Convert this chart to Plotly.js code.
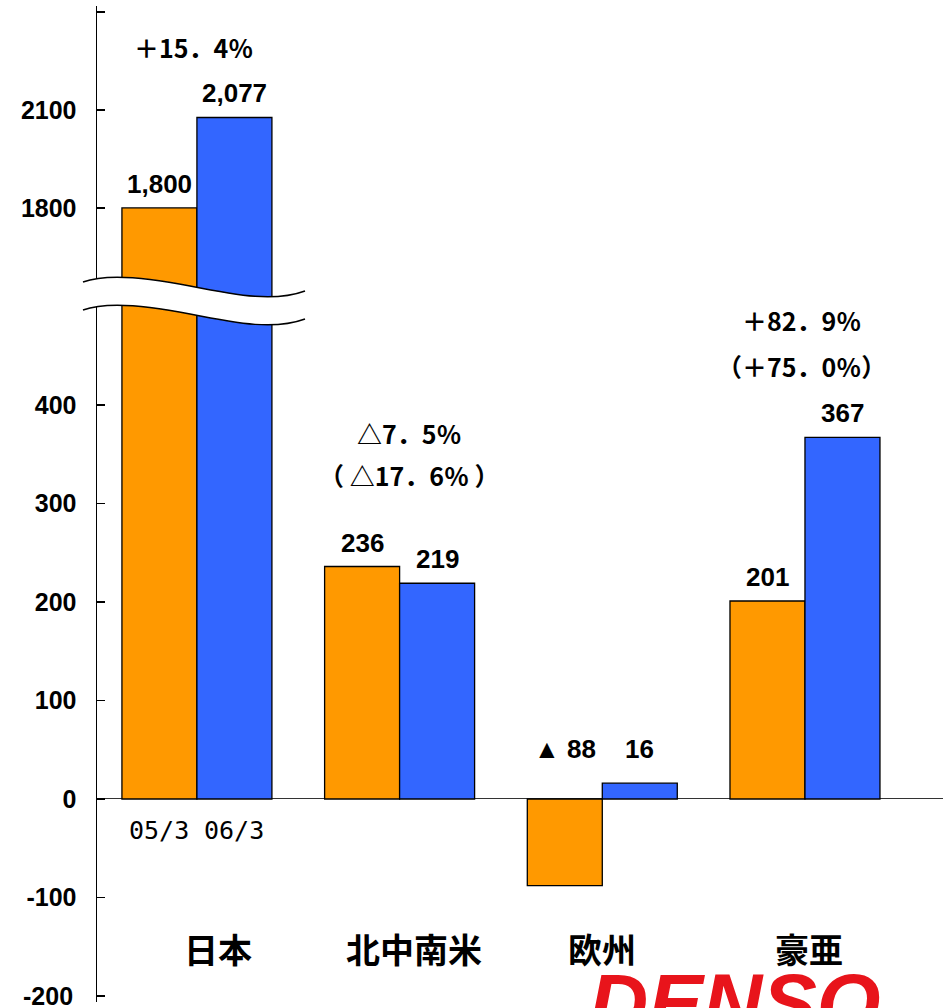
<!DOCTYPE html>
<html>
<head>
<meta charset="utf-8">
<script src="https://cdn.plot.ly/plotly-3.0.1.min.js"></script>
<style>html,body{margin:0;padding:0;background:#fff;}#chart{width:948px;height:1008px;}</style>
</head>
<body>
<div id="chart"></div>
<script>
// ---- data ----
const regions = ['日本', '北中南米', '欧州', '豪亜'];
const periods = ['05/3', '06/3'];
const values0503 = [1800, 236, -88, 201];
const values0603 = [2077, 219, 16, 367];
const labels0503 = ['1,800', '236', '▲ 88', '201'];
const labels0603 = ['2,077', '219', '16', '367'];
const growthMain = ['＋15．4％', '△7．5％', '', '＋82．9％'];
const growthLocal = ['', '（ △17．6％ ）', '', '（＋75．0％）'];
const lowerTickVals = [-200, -100, 0, 100, 200, 300, 400];
const lowerTickText = ['-200', '-100', '0', '100', '200', '300', '400'];
const upperTickVals = [1800, 2100, 2400];
const upperTickText = ['1800', '2100', ''];

// ---- geometry / style ----
const W = 948, H = 1008, ML = 97, MR = 5, MT = 6, MB = 6;
const PW = W - ML - MR, PH = H - MT - MB;
const px = v => (v - ML) / PW;
const py = v => (H - MB - v) / PH;
const LOWER_RANGE = [-206.1, 502.5];
const UPPER_RANGE = [1512, 2418.4];
const lowerDomain = [0, py(304)];
const upperDomain = [py(302), 1];
const ORANGE = '#FF9900', BLUE = '#3366FF';
const NUMFONT = 'Liberation Sans, Arial, Noto Sans CJK JP, sans-serif';
const CJKFONT = 'Noto Sans CJK JP, sans-serif';
const barOffset = 0.185;
const unitPx = PW / 4.174;               // pixels per category unit
const growthShift1 = [70, 134, 0, 117];
const growthShift2 = [0, 92, 0, 71];
const growthXShift = [-3, 10, 0, -3];     // px
const regionXShift = [21, 14, 0, 4];      // px
const tickFont = {family: NUMFONT, size: 25, color: '#000', weight: 'bold'};

const idx = regions.map((_, i) => i);
const barLine = {color: '#000', width: 1.3};
function barTrace(vals, color, yaxis, name) {
  return {type: 'bar', x: idx, y: vals, yaxis: yaxis, xaxis: 'x', name: name,
    marker: {color: color, line: barLine}, hoverinfo: 'skip', showlegend: false};
}
const traces = [
  barTrace(values0503, ORANGE, 'y', periods[0]),
  barTrace(values0603, BLUE, 'y', periods[1]),
  barTrace(values0503, ORANGE, 'y2', periods[0]),
  barTrace(values0603, BLUE, 'y2', periods[1])
];

const annotations = [];
const numFont = {family: NUMFONT, size: 26, color: '#000', weight: 'bold'};
const pctFont = {family: CJKFONT, size: 25, color: '#000', weight: 'bold'};
idx.forEach(i => {
  const a = values0503[i], b = values0603[i];
  const anyNeg = a < 0 || b < 0;
  [[a, labels0503[i], -barOffset], [b, labels0603[i], barOffset]].forEach(([v, t, off]) => {
    let y = v, shift = 24;
    if (anyNeg) { y = Math.max(a, b, 0); shift = 34; }
    const yref = y > LOWER_RANGE[1] ? 'y2' : 'y';
    annotations.push({x: i + off, y: y, xref: 'x', yref: yref, text: t, showarrow: false,
      yanchor: 'middle', yshift: shift, font: numFont});
  });
  const top = Math.max(a, b, 0);
  const yref = top > LOWER_RANGE[1] ? 'y2' : 'y';
  const gx = i + growthXShift[i] / unitPx;
  if (growthMain[i]) annotations.push({x: gx, y: top, xref: 'x', yref: yref, text: growthMain[i],
    showarrow: false, yanchor: 'middle', yshift: growthShift1[i], font: pctFont});
  if (growthLocal[i]) annotations.push({x: gx, y: top, xref: 'x', yref: yref, text: growthLocal[i],
    showarrow: false, yanchor: 'middle', yshift: growthShift2[i], font: pctFont});
  // region name
  annotations.push({x: i + regionXShift[i] / unitPx, y: py(948), xref: 'x', yref: 'paper', text: regions[i],
    showarrow: false, yanchor: 'middle', font: {family: CJKFONT, size: 34, color: '#000', weight: 'bold'}});
});
// period labels under first group
periods.forEach((p, k) => {
  annotations.push({x: (k === 0 ? -barOffset : barOffset), y: py(830), xref: 'x', yref: 'paper', text: p,
    showarrow: false, yanchor: 'middle', font: {family: 'DejaVu Sans Mono, monospace', size: 25, color: '#000'}});
});
// bottom tick label (Plotly drops it at the page edge) drawn as annotation
const bottomTickLabel = lowerTickText[0];
const lowerTickTextShown = lowerTickText.map((t, k) => k === 0 ? '' : t);
annotations.push({x: px(97 - 22), y: lowerTickVals[0], xref: 'paper', yref: 'y', text: bottomTickLabel,
  showarrow: false, xanchor: 'right', yanchor: 'middle', font: tickFont});
// logo
annotations.push({x: px(735), y: py(955), xref: 'paper', yref: 'paper', text: 'DENSO', showarrow: false,
  yanchor: 'top', xanchor: 'center',
  font: {family: 'Liberation Sans, Arial, sans-serif', size: 82, color: '#E8141B', weight: 'bold', style: 'italic'}});

// axis break (wavy band)
function P(x, y) { return px(x).toFixed(5) + ',' + py(y).toFixed(5); }
const d = 28;
const upperWave = `M${P(83,282)} C${P(105,274)} ${P(140,276)} ${P(190,286)} C${P(240,296)} ${P(275,302)} ${P(305,291)}`;
const lowerWave = `M${P(83,282+d)} C${P(105,274+d)} ${P(140,276+d)} ${P(190,286+d)} C${P(240,296+d)} ${P(275,302+d)} ${P(305,291+d)}`;
const band = upperWave + ` L${P(305,291+d)} C${P(275,302+d)} ${P(240,296+d)} ${P(190,286+d)} C${P(140,276+d)} ${P(105,274+d)} ${P(83,282+d)} Z`;
const shapes = [
  {type: 'path', xref: 'paper', yref: 'paper', path: band, fillcolor: '#fff', line: {width: 0}, layer: 'above'},
  {type: 'path', xref: 'paper', yref: 'paper', path: upperWave, line: {color: '#000', width: 1.5}, layer: 'above'},
  {type: 'path', xref: 'paper', yref: 'paper', path: lowerWave, line: {color: '#000', width: 1.5}, layer: 'above'}
];

const yCommon = {showline: true, linecolor: '#000', linewidth: 1.5, ticks: 'inside', ticklen: 8,
  tickwidth: 1.5, tickcolor: '#000', showgrid: false, ticklabelstandoff: 14, tickfont: tickFont};

const layout = {
  width: W, height: H,
  margin: {l: ML, r: MR, t: MT, b: MB, pad: 0},
  paper_bgcolor: '#fff', plot_bgcolor: 'rgba(0,0,0,0)',
  barmode: 'group', bargap: 0.26, bargroupgap: 0,
  showlegend: false,
  xaxis: {range: [-0.493, 3.681], showline: false, showticklabels: false, ticks: '', showgrid: false,
    zeroline: false, anchor: 'y'},
  yaxis: Object.assign({}, yCommon, {domain: lowerDomain, range: LOWER_RANGE, tickvals: lowerTickVals,
    ticktext: lowerTickTextShown, zeroline: true, zerolinecolor: '#333', zerolinewidth: 1}),
  yaxis2: Object.assign({}, yCommon, {domain: upperDomain, range: UPPER_RANGE, tickvals: upperTickVals,
    ticktext: upperTickText, zeroline: false, anchor: 'x'}),
  annotations: annotations,
  shapes: shapes
};

Plotly.newPlot('chart', traces, layout, {displayModeBar: false, staticPlot: true});
</script>
</body>
</html>
